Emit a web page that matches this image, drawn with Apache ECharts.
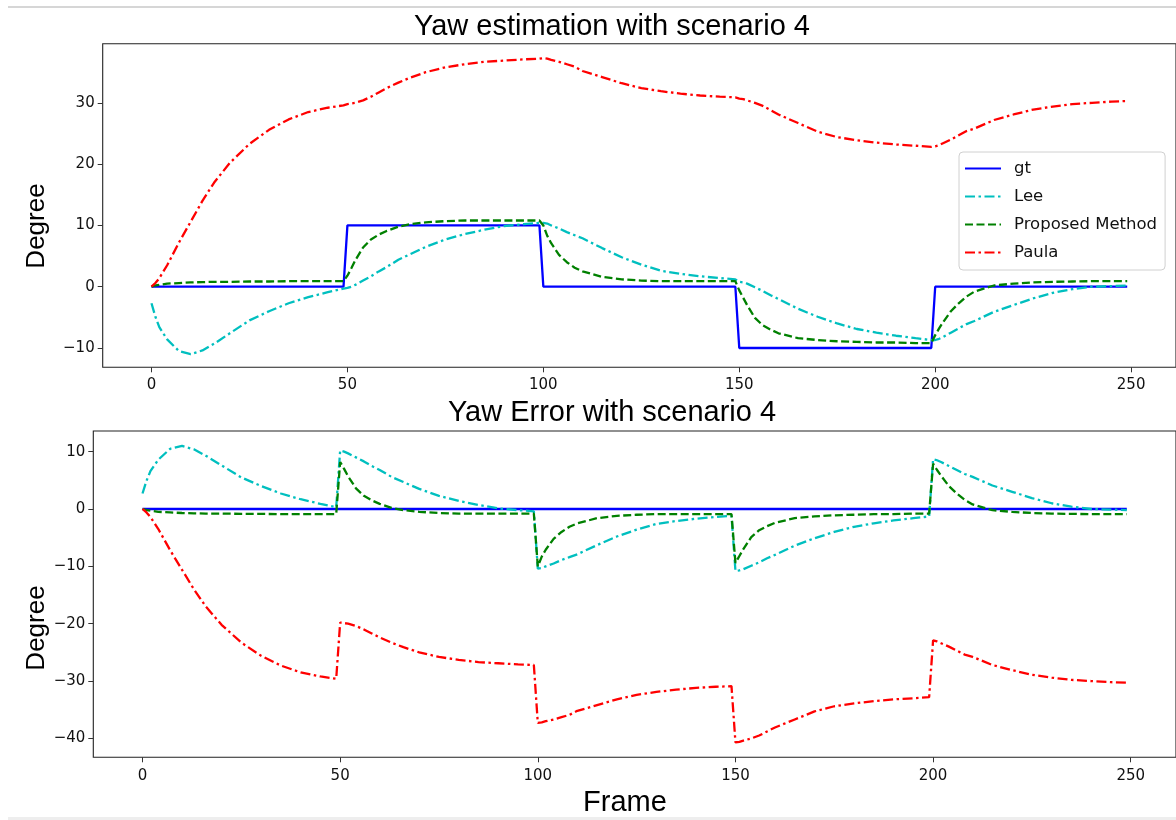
<!DOCTYPE html>
<html>
<head>
<meta charset="utf-8">
<script src="https://cdn.jsdelivr.net/npm/echarts@6/dist/echarts.min.js"></script>
<style>
html,body{margin:0;padding:0;background:#fff;}
#chart{width:1176px;height:820px;}
</style>
</head>
<body>
<div id="chart"></div>
<script>
// ---- data (frame indices and values) ----
const frames = [0,1,2,4,7,10,13,16,20,25,30,35,40,45,49,
  50,51,52,54,56,58,60,63,66,70,75,80,85,90,95,99,
  100,101,102,104,106,108,110,115,120,125,130,135,140,145,149,
  150,151,152,154,156,158,160,165,170,175,180,185,190,195,199,
  200,201,202,204,206,208,210,215,220,225,230,235,240,245,249];

const seriesNames = ['gt','Lee','Proposed Method','Paula'];
const xTicks = [0,50,100,150,200,250];
const yTicksTop = [-10,0,10,20,30];
const yTicksBottom = [-40,-30,-20,-10,0,10];

// Yaw estimation (top)
const gtYaw = [0,0,0,0,0,0,0,0,0,0,0,0,0,0,0,
  10,10,10,10,10,10,10,10,10,10,10,10,10,10,10,10,
  0,0,0,0,0,0,0,0,0,0,0,0,0,0,0,
  -10,-10,-10,-10,-10,-10,-10,-10,-10,-10,-10,-10,-10,-10,-10,
  0,0,0,0,0,0,0,0,0,0,0,0,0,0,0];
const leeYaw = [-2.7,-4.9,-6.6,-8.6,-10.5,-11.0,-10.4,-9.3,-7.6,-5.5,-4.0,-2.7,-1.7,-0.9,-0.3,
  -0.2,0.0,0.3,1.0,1.7,2.5,3.2,4.4,5.3,6.5,7.7,8.6,9.3,9.9,10.2,10.4,
  10.4,10.3,10.0,9.5,8.9,8.4,7.9,6.3,4.8,3.6,2.6,2.1,1.7,1.4,1.2,
  0.8,0.7,0.5,-0.1,-0.7,-1.4,-2.0,-3.6,-4.9,-6.0,-6.9,-7.5,-8.0,-8.4,-8.7,
  -8.7,-8.5,-8.2,-7.5,-6.8,-6.1,-5.6,-4.1,-3.0,-1.9,-1.0,-0.4,0.0,0.1,0.2];
const propYaw = [0,0.2,0.3,0.5,0.6,0.7,0.75,0.8,0.8,0.85,0.85,0.9,0.9,0.9,0.9,
  1.8,3.0,4.3,6.4,7.7,8.5,9.1,9.8,10.2,10.5,10.7,10.8,10.8,10.8,10.8,10.8,
  10.0,8.3,7.1,5.2,4.0,3.1,2.5,1.6,1.2,1.0,0.9,0.9,0.9,0.9,0.9,
  -0.6,-1.8,-3.0,-5.1,-6.3,-7.0,-7.6,-8.4,-8.7,-8.9,-9.0,-9.1,-9.1,-9.2,-9.2,
  -7.9,-6.8,-5.8,-4.0,-2.7,-1.6,-0.8,0.2,0.5,0.7,0.8,0.85,0.9,0.9,0.9];
const paulaYaw = [0,0.6,1.4,3.5,7.2,10.6,14.0,17.0,20.2,23.3,25.6,27.3,28.5,29.2,29.6,
  29.8,29.9,30.0,30.4,31.0,31.7,32.4,33.3,34.1,35.0,35.8,36.3,36.7,36.9,37.1,37.2,
  37.3,37.2,37.0,36.7,36.3,35.9,35.2,34.2,33.2,32.4,31.9,31.5,31.2,31.0,30.9,
  30.7,30.6,30.4,30.0,29.5,28.8,28.1,26.7,25.3,24.4,23.9,23.5,23.2,23.0,22.8,
  22.9,23.1,23.4,24.0,24.7,25.4,25.8,27.2,28.1,28.9,29.4,29.8,30.0,30.2,30.3];

// Yaw error (bottom)
const gtErr = [0,0,0,0,0,0,0,0,0,0,0,0,0,0,0,
  0,0,0,0,0,0,0,0,0,0,0,0,0,0,0,0,
  0,0,0,0,0,0,0,0,0,0,0,0,0,0,0,
  0,0,0,0,0,0,0,0,0,0,0,0,0,0,0,
  0,0,0,0,0,0,0,0,0,0,0,0,0,0,0];
const leeErr = [2.7,4.9,6.6,8.6,10.5,11.0,10.4,9.3,7.6,5.5,4.0,2.7,1.7,0.9,0.3,
  10.2,10.0,9.7,9.0,8.3,7.5,6.8,5.6,4.7,3.5,2.3,1.4,0.7,0.1,-0.2,-0.4,
  -10.4,-10.3,-10.0,-9.5,-8.9,-8.4,-7.9,-6.3,-4.8,-3.6,-2.6,-2.1,-1.7,-1.4,-1.2,
  -10.8,-10.7,-10.5,-9.9,-9.3,-8.6,-8.0,-6.4,-5.1,-4.0,-3.1,-2.5,-2.0,-1.6,-1.3,
  8.7,8.5,8.2,7.5,6.8,6.1,5.6,4.1,3.0,1.9,1.0,0.4,0.0,-0.1,-0.2];
const propErr = [0,-0.2,-0.3,-0.5,-0.6,-0.7,-0.75,-0.8,-0.8,-0.85,-0.85,-0.9,-0.9,-0.9,-0.9,
  8.2,7.0,5.7,3.6,2.3,1.5,0.9,0.2,-0.2,-0.5,-0.7,-0.8,-0.8,-0.8,-0.8,-0.8,
  -10.0,-8.3,-7.1,-5.2,-4.0,-3.1,-2.5,-1.6,-1.2,-1.0,-0.9,-0.9,-0.9,-0.9,-0.9,
  -9.4,-8.2,-7.0,-4.9,-3.7,-3.0,-2.4,-1.6,-1.3,-1.1,-1.0,-0.9,-0.9,-0.8,-0.8,
  7.9,6.8,5.8,4.0,2.7,1.6,0.8,-0.2,-0.5,-0.7,-0.8,-0.85,-0.9,-0.9,-0.9];
const paulaErr = [0,-0.6,-1.4,-3.5,-7.2,-10.6,-14.0,-17.0,-20.2,-23.3,-25.6,-27.3,-28.5,-29.2,-29.6,
  -19.8,-19.9,-20.0,-20.4,-21.0,-21.7,-22.4,-23.3,-24.1,-25.0,-25.8,-26.3,-26.7,-26.9,-27.1,-27.2,
  -37.3,-37.2,-37.0,-36.7,-36.3,-35.9,-35.2,-34.2,-33.2,-32.4,-31.9,-31.5,-31.2,-31.0,-30.9,
  -40.7,-40.6,-40.4,-40.0,-39.5,-38.8,-38.1,-36.7,-35.3,-34.4,-33.9,-33.5,-33.2,-33.0,-32.8,
  -22.9,-23.1,-23.4,-24.0,-24.7,-25.4,-25.8,-27.2,-28.1,-28.9,-29.4,-29.8,-30.0,-30.2,-30.3];

// ---- styling ----
const colors = {'gt':'#0000ff','Lee':'#00bfbf','Proposed Method':'#008000','Paula':'#ff0000'};
const dashes = {'gt':'solid','Lee':[10,3.5,2.5,3.5],'Proposed Method':[8,3.5],'Paula':[10,3.5,2.5,3.5]};
const tickFont = 'DejaVu Sans';

function pairs(vals){ return frames.map((f,i)=>[f, vals[i]]); }
function fmt(v){ return String(v).replace('-', '\u2212'); }

function mkSeries(name, vals, idx){
  return {
    name: name, type:'line', xAxisIndex: idx, yAxisIndex: idx,
    data: pairs(vals), symbol:'none', showSymbol:false, animation:false,
    lineStyle:{color: colors[name], width: 2.3, type: dashes[name]},
    itemStyle:{color: colors[name]}
  };
}

function xAxis(gridIndex, margin){
  return {
    type:'value', gridIndex: gridIndex, min:-12.45, max:261.45, position:'bottom',
    axisLine:{show:false, onZero:false}, splitLine:{show:false},
    axisTick:{show:true, length:5, customValues: xTicks, lineStyle:{color:'#333', width:1}},
    axisLabel:{customValues: xTicks, margin: margin, fontFamily: tickFont, fontSize:15, color:'#111', formatter: fmt}
  };
}
function yAxis(gridIndex, min, max, ticks){
  return {
    type:'value', gridIndex: gridIndex, min:min, max:max, position:'left',
    axisLine:{show:false, onZero:false}, splitLine:{show:false},
    axisTick:{show:true, length:5, customValues: ticks, lineStyle:{color:'#333', width:1}},
    axisLabel:{customValues: ticks, margin: 8, fontFamily: tickFont, fontSize:15, color:'#111', formatter: fmt}
  };
}

const chart = echarts.init(document.getElementById('chart'), null, {renderer:'canvas'});
chart.setOption({
  backgroundColor:'#ffffff',
  animation:false,
  grid:[
    {left:102.7, top:43.7, width:1074, height:323.6, show:true, borderColor:'#222', borderWidth:1.1, backgroundColor:'transparent'},
    {left:93.3, top:431, width:1083.7, height:326.3, show:true, borderColor:'#222', borderWidth:1.1, backgroundColor:'transparent'}
  ],
  xAxis:[ xAxis(0, 10), xAxis(1, 11) ],
  yAxis:[ yAxis(0, -13.15, 39.65, yTicksTop), yAxis(1, -43.3, 13.6, yTicksBottom) ],
  legend:{
    data: seriesNames, orient:'vertical', left:959, top:152,
    padding:[8,8,9,5], itemGap:11, itemWidth:36, itemHeight:14,
    backgroundColor:'rgba(255,255,255,0.85)', borderColor:'#d0d0d0', borderWidth:1, borderRadius:4,
    itemStyle:{opacity:0, borderWidth:0},
    textStyle:{fontFamily: tickFont, fontSize:16.5, color:'#111', lineHeight:14, padding:[0,0,0,8]}
  },
  graphic:[
    {type:'line', shape:{x1:8,y1:7,x2:1176,y2:7}, style:{stroke:'#c8c8c8', lineWidth:1.5}, silent:true},
    {type:'rect', shape:{x:8,y:817,width:1168,height:3}, style:{fill:'#eeeeee'}, silent:true},
    {type:'text', x:612, y:27, style:{text:'Yaw estimation with scenario 4', font:'29px "Liberation Sans"', fill:'#000', align:'center', verticalAlign:'middle'}},
    {type:'text', x:612, y:413, style:{text:'Yaw Error with scenario 4', font:'29px "Liberation Sans"', fill:'#000', align:'center', verticalAlign:'middle'}},
    {type:'text', x:625, y:803, style:{text:'Frame', font:'29px "Liberation Sans"', fill:'#000', align:'center', verticalAlign:'middle'}},
    {type:'text', x:37, y:226, rotation:Math.PI/2, style:{text:'Degree', font:'26px "Liberation Sans"', fill:'#000', align:'center', verticalAlign:'middle'}},
    {type:'text', x:37, y:628, rotation:Math.PI/2, style:{text:'Degree', font:'26px "Liberation Sans"', fill:'#000', align:'center', verticalAlign:'middle'}}
  ],
  series:[
    mkSeries('gt', gtYaw, 0),
    mkSeries('Lee', leeYaw, 0),
    mkSeries('Proposed Method', propYaw, 0),
    mkSeries('Paula', paulaYaw, 0),
    mkSeries('gt', gtErr, 1),
    mkSeries('Lee', leeErr, 1),
    mkSeries('Proposed Method', propErr, 1),
    mkSeries('Paula', paulaErr, 1)
  ]
});
</script>
</body>
</html>
